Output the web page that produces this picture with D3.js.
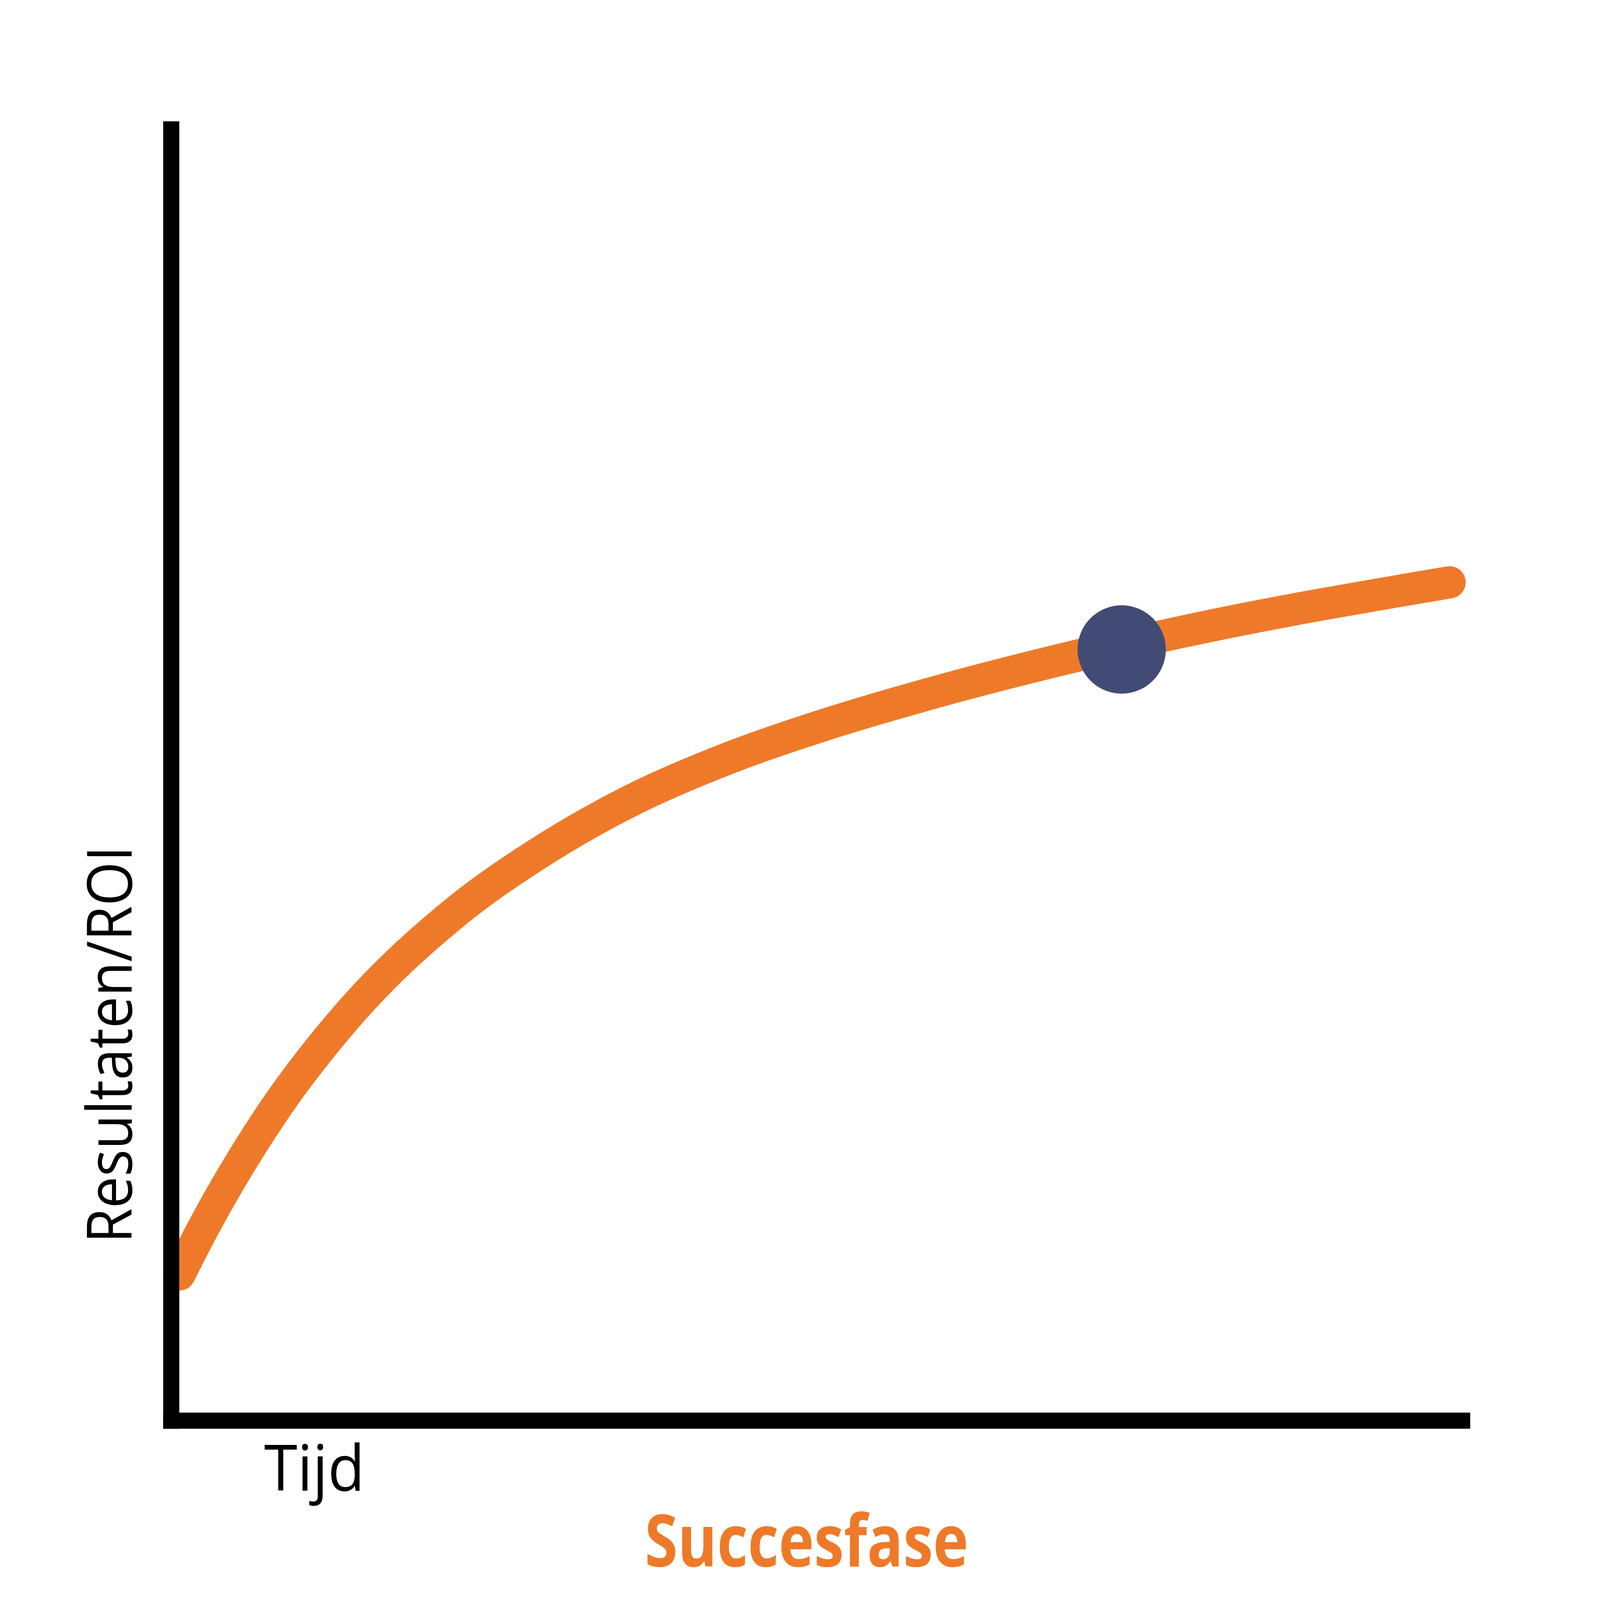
<!DOCTYPE html>
<html>
<head>
<meta charset="utf-8">
<script src="https://cdn.jsdelivr.net/npm/d3@7"></script>
<style>
  html, body { margin: 0; padding: 0; width: 100%; height: 100%; overflow: hidden; background: #ffffff; }
  svg { display: block; width: 100vw; height: 100vh; }
</style>
</head>
<body>
<script>
// ---- data ----
const timeValues   = [0.00, 0.18, 0.72, 1.29, 2.12, 2.78, 3.52, 4.26, 5.01, 5.75, 6.99, 7.83, 9.84];
const resultValues = [1.07, 1.42, 2.32, 3.06, 3.86, 4.33, 4.75, 5.07, 5.33, 5.55, 5.87, 6.06, 6.43];
const markerTime = 7.30;
const markerResult = 5.91;
const xAxisLabel = "Tijd";
const yAxisLabel = "Resultaten/ROI";
const phaseTitle = "Succesfase";

// ---- layout ----
const W = 4167, H = 4167;
const axisWidth = 42;
const orange = "#EE7A29";
const navy = "#424B75";

const svg = d3.select("body").append("svg")
  .attr("viewBox", `0 0 ${W} ${H}`)
  .attr("preserveAspectRatio", "xMidYMid meet");

svg.append("rect").attr("width", W).attr("height", H).attr("fill", "#ffffff");

const x = d3.scaleLinear().domain([0, 10]).range([467, 3829]);
const y = d3.scaleLinear().domain([0, 10]).range([3679, 316]);

const data = timeValues.map((t, i) => [t, resultValues[i]]);

const line = d3.line()
  .x(d => x(d[0]))
  .y(d => y(d[1]))
  .curve(d3.curveMonotoneX);

svg.append("path")
  .datum(data)
  .attr("d", line)
  .attr("fill", "none")
  .attr("stroke", orange)
  .attr("stroke-width", 84)
  .attr("stroke-linecap", "round")
  .attr("stroke-linejoin", "round");

// axes (no ticks) drawn on top of the curve start
const axes = svg.append("g").attr("stroke", "#000").attr("stroke-width", axisWidth).attr("stroke-linecap", "butt");
axes.append("line")
  .attr("x1", x(0) - axisWidth / 2).attr("x2", x(0) - axisWidth / 2)
  .attr("y1", y(10)).attr("y2", y(0) + axisWidth);
axes.append("line")
  .attr("x1", x(0) - axisWidth).attr("x2", x(10))
  .attr("y1", y(0) + axisWidth / 2).attr("y2", y(0) + axisWidth / 2);

// marker
svg.append("circle")
  .attr("cx", x(markerTime))
  .attr("cy", y(markerResult))
  .attr("r", 115)
  .attr("fill", navy);

// labels
svg.append("text")
  .attr("x", 688).attr("y", 3882)
  .attr("font-family", "'Open Sans', sans-serif")
  .attr("font-size", 165)
  .attr("fill", "#000")
  .attr("textLength", 262)
  .attr("lengthAdjust", "spacingAndGlyphs")
  .text(xAxisLabel);

svg.append("text")
  .attr("transform", "translate(343,3238) rotate(-90)")
  .attr("font-family", "'Open Sans', sans-serif")
  .attr("font-size", 163)
  .attr("fill", "#000")
  .attr("textLength", 1035)
  .attr("lengthAdjust", "spacingAndGlyphs")
  .text(yAxisLabel);

svg.append("text")
  .attr("x", 1679).attr("y", 4080)
  .attr("font-family", "'Open Sans', sans-serif")
  .attr("font-weight", 700)
  .attr("font-size", 189)
  .attr("fill", orange)
  .attr("textLength", 843)
  .attr("lengthAdjust", "spacingAndGlyphs")
  .text(phaseTitle);
</script>
</body>
</html>
